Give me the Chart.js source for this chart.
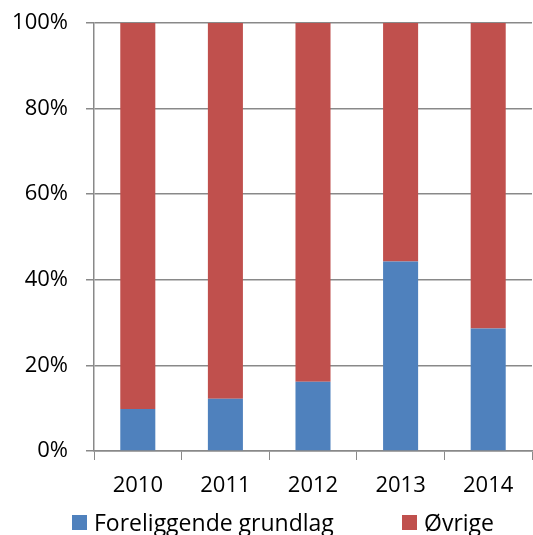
<!DOCTYPE html>
<html>
<head>
<meta charset="utf-8">
<script src="https://cdn.jsdelivr.net/npm/chart.js"></script>
<style>
  html, body { margin: 0; padding: 0; background: #fff; }
  #wrap { position: relative; width: 533px; height: 535px; }
  #legend { position: absolute; left: 0; top: 508px; width: 533px; height: 28px;
            font-family: "Open Sans", sans-serif; font-size: 23px; color: #000; }
  .item { position: absolute; top: 0; line-height: 28px; white-space: nowrap; }
  .box { display: inline-block; width: 15px; height: 15px; vertical-align: middle;
         margin-right: 7px; position: relative; top: -2px; }
</style>
</head>
<body>
<div id="wrap">
  <canvas id="barChart" width="533" height="535"></canvas>
  <div id="legend"></div>
</div>
<script>
// chart data
const years = ["2010", "2011", "2012", "2013", "2014"];
const grundlag = [9.8, 12.2, 16.2, 44.3, 28.6];
const ovrige = [90.2, 87.8, 83.8, 55.7, 71.4];
const yTicks = [0, 20, 40, 60, 80, 100];

const seriesNames = ["Foreliggende grundlag", "Øvrige"];
const seriesColors = ["#4F81BD", "#C0504D"];
const gridColor = "#898989";

const ctx = document.getElementById("barChart").getContext("2d");
const chart = new Chart(ctx, {
  type: "bar",
  data: {
    labels: years,
    datasets: [
      { label: seriesNames[0], data: grundlag, backgroundColor: seriesColors[0] },
      { label: seriesNames[1], data: ovrige, backgroundColor: seriesColors[1] },
    ],
  },
  options: {
    responsive: false,
    animation: false,
    layout: { padding: { top: 23, right: 1, left: 0, bottom: 0 } },
    datasets: { bar: { barPercentage: 0.4, categoryPercentage: 1 } },
    plugins: { legend: { display: false }, tooltip: { enabled: false } },
    scales: {
      x: {
        stacked: true,
        grid: { offset: true, drawOnChartArea: false, tickLength: 9, color: gridColor },
        border: { color: gridColor, width: 1.5 },
        ticks: { color: "#000", padding: 13, font: { family: "Open Sans", size: 22 } },
        afterFit: (s) => { s.height = 84; s.paddingLeft = 0; s.paddingRight = 0; },
      },
      y: {
        stacked: true,
        min: 0,
        max: 100,
        afterBuildTicks: (s) => { s.ticks = yTicks.map((v) => ({ value: v })); },
        grid: { tickLength: 8, color: gridColor, lineWidth: 1.5 },
        border: { color: gridColor, width: 1.5 },
        ticks: {
          color: "#000",
          padding: 18,
          font: { family: "Open Sans", size: 22 },
          callback: (v) => v + "%",
        },
        afterFit: (s) => { s.width = 94; s.paddingTop = 0; s.paddingBottom = 0; },
      },
    },
  },
});

// legend below the plot
const legend = document.getElementById("legend");
const legendLeft = [72, 402];
chart.data.datasets.forEach((ds, i) => {
  const item = document.createElement("div");
  item.className = "item";
  item.style.left = legendLeft[i] + "px";
  const box = document.createElement("span");
  box.className = "box";
  box.style.background = ds.backgroundColor;
  item.appendChild(box);
  item.appendChild(document.createTextNode(ds.label));
  legend.appendChild(item);
});
</script>
</body>
</html>
